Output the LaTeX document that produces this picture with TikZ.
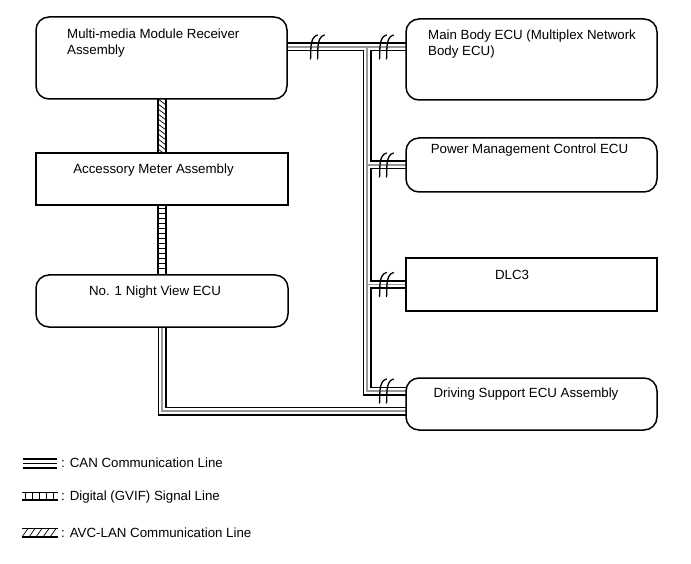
\documentclass[tikz,border=0pt]{standalone}
\usepackage{fontspec}
\setmainfont{Liberation Sans}
\usetikzlibrary{calc}
\pgfdeclarelayer{bg}
\pgfsetlayers{bg,main}
\newcommand\mycanbus[1]{%
  \draw[#1] (mm.east |- j1) -- (mb.west |- j1);
  \draw[#1] (j1) -- (jd) -- (ds.west |- jd);
  \draw[#1] (pm.west -| j1) -- (pm.west);
  \draw[#1] (dlc.west -| j1) -- (dlc.west);
  \draw[#1] (nv.south) -- (jn) -- (ds.west |- jn);
}
\begin{document}
\begin{tikzpicture}[x=1pt,y=-1pt,
  box/.style={draw, line width=1.5pt, minimum width=251pt, inner sep=0pt, outer sep=0pt},
  rbox/.style={box, rounded corners=13pt},
  lbl/.style={font=\fontsize{13.3}{15.5}\selectfont, inner sep=0pt, align=left},
  canA/.style={line width=9pt, black},
  canB/.style={line width=5.6pt, white},
  canC/.style={line width=1.1pt, black!40},
  brk/.style={line width=1.3pt, black, line cap=round},
  rail/.style={line width=1.3pt},
  hatch/.style={line width=0.7pt},
]
\useasboundingbox (0,0) rectangle (691,564);
% boxes
\node[rbox, minimum height=82pt] (mm) at (161.5,58) {};
\node[rbox, minimum height=81pt] (mb) at (531.5,59.5) {};
\node[rbox, minimum height=54pt] (pm) at (531.5,165) {};
\node[box, minimum height=53pt] (dlc) at (531.5,284.5) {};
\node[rbox, minimum height=52pt] (ds) at (531.5,404) {};
\node[box, minimum width=252pt, minimum height=52pt] (am) at (162,179) {};
\node[rbox, minimum width=252pt, minimum height=52pt] (nv) at (162,301) {};
% labels
\node[lbl, anchor=north west] (mmt) at (67,29) {Multi-media Module Receiver\\Assembly};
\node[lbl, anchor=north west] (mbt) at (428,30) {Main Body ECU (Multiplex Network\\Body ECU)};
\node[lbl, anchor=base] (pmt) at (529.5,153.7) {Power Management Control ECU};
\node[lbl, anchor=base] (dlct) at (512,279.7) {DLC3};
\node[lbl, anchor=base] (dst) at (526,397.7) {Driving Support ECU Assembly};
\node[lbl, anchor=base] (amt) at (153.5,173.7) {Accessory Meter Assembly};
\node[lbl, anchor=base] (nvt) at (155,295.7) {No. 1 Night View ECU};
% CAN bus
\coordinate (j1) at (367,47);
\coordinate (jd) at (367,391);
\coordinate (jn) at (162,411);
\begin{pgfonlayer}{bg}
\fill[white] (0,0) rectangle (691,564);
\mycanbus{canA}
\mycanbus{canB}
\mycanbus{canC}
\end{pgfonlayer}
% break marks
\foreach \bx/\by in {317/47, 386/47, 386/165, 386/284.5, 386/391}{
  \foreach \dx in {-3.5,3.5}{
    \draw[brk] ({\bx+\dx+4},{\by-12}) .. controls ({\bx+\dx-5},{\by-10}) and ({\bx+\dx-2},{\by+8}) .. ({\bx+\dx-3},{\by+12});
  }
}
% AVC-LAN link
\coordinate (avt) at (mm.south -| am.north);
\begin{pgfonlayer}{bg}
\draw[rail] ($(avt)+(-4,0)$) -- ($(am.north)+(-4,0)$);
\draw[rail] ($(avt)+(4,0)$) -- ($(am.north)+(4,0)$);
\begin{scope}
\clip ($(avt)+(-4,0)$) rectangle ($(am.north)+(4,0)$);
\foreach \k in {-2,...,11}{
  \draw[hatch] ($(avt)+(-4,{5*\k})$) -- ++(8,6);
}
\end{scope}
% Digital link
\coordinate (dgb) at (nv.north -| am.south);
\draw[rail] ($(am.south)+(-4,0)$) -- ($(dgb)+(-4,0)$);
\draw[rail] ($(am.south)+(4,0)$) -- ($(dgb)+(4,0)$);
\foreach \k in {1,...,13}{
  \draw[hatch] ($(am.south)+(-4,{5*\k-1.5})$) -- ++(8,0);
}
\end{pgfonlayer}
% legend
\draw[line width=1.2pt] (23,459) -- (57,459);
\draw[line width=1pt] (23,463) -- (57,463);
\draw[line width=2pt] (23,467.5) -- (57,467.5);
\draw[hatch] (22,492) -- (58,492);
\draw[line width=1.6pt] (22,500) -- (58,500);
\foreach \x in {25,32,39,46,53} \draw[hatch] (\x,492) -- (\x,500);
\draw[hatch] (22,528.5) -- (58,528.5);
\draw[line width=1.6pt] (22,537) -- (58,537);
\foreach \x in {22,29,36,43,50} \draw[hatch] (\x,537) -- ({\x+6},528.5);
\node[lbl, anchor=base west] (lg1) at (61,467.7) {: CAN Communication Line};
\node[lbl, anchor=base west] (lg2) at (61,500.7) {: Digital (GVIF) Signal Line};
\node[lbl, anchor=base west] (lg3) at (61,537.7) {: AVC-LAN Communication Line};
\end{tikzpicture}
\end{document}
